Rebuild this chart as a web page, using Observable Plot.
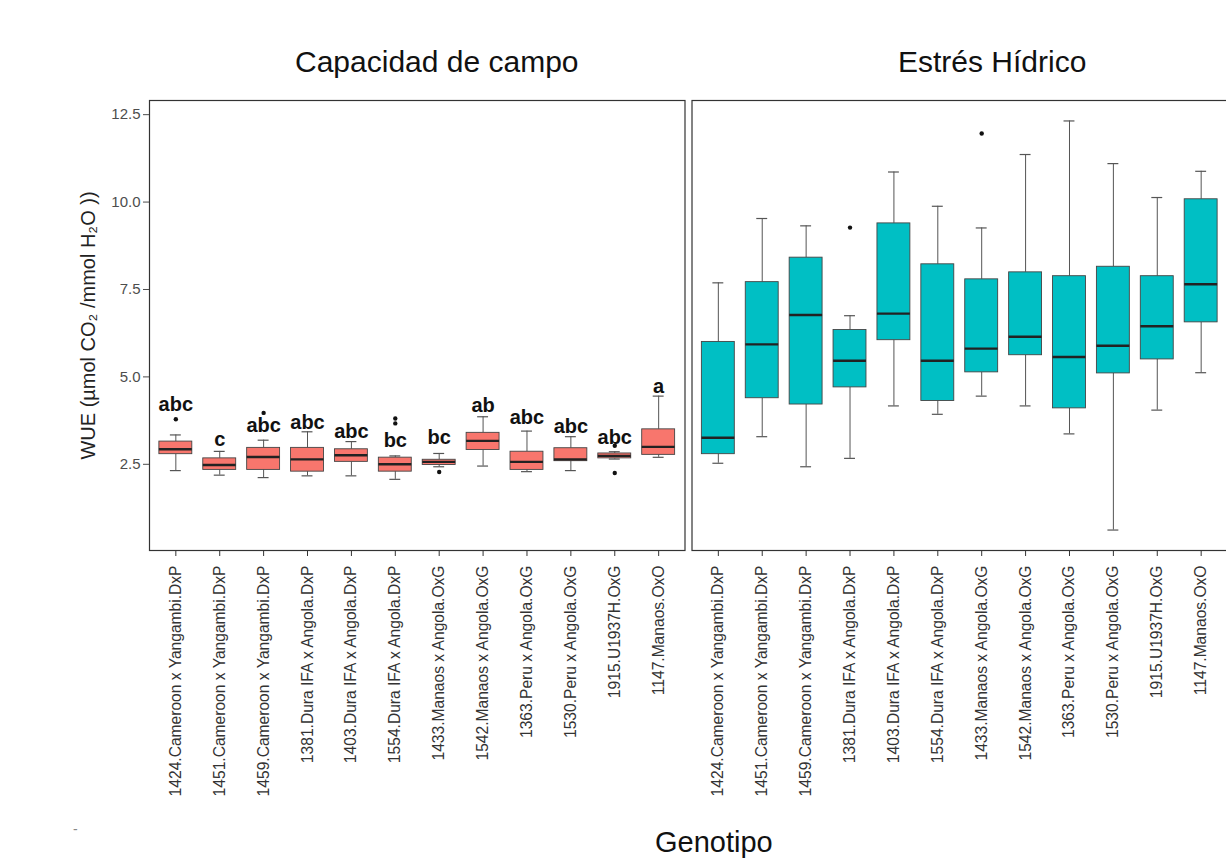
<!DOCTYPE html>
<html>
<head>
<meta charset="utf-8">
<script src="https://cdn.jsdelivr.net/npm/d3@7"></script>
<script src="https://cdn.jsdelivr.net/npm/@observablehq/plot@0.6"></script>
<style>
  html, body { margin: 0; padding: 0; background: #fff; overflow: hidden; }
  #wrap { position: relative; width: 1226px; height: 863px; overflow: hidden; font-family: "Liberation Sans", Arial, sans-serif; }
  #chart { position: absolute; left: 0; top: 0; width: 1240px; }
  #chart svg { max-width: none !important; }
  .ttl { position: absolute; font-size: 30px; line-height: 1; color: #111; white-space: nowrap; }
  #topline { position: absolute; left: 10px; top: 40px; width: 1216px; height: 2px; background: #ececec; }
</style>
</head>
<body>
<div id="wrap">
  <div id="topline"></div>
  <div id="chart"></div>
  <div class="ttl" style="left:295px; top:47px;">Capacidad de campo</div>
  <div class="ttl" style="left:898px; top:47px;">Estrés Hídrico</div>
  <div class="ttl" style="left:655px; top:828px; font-size:29px;">Genotipo</div>
  <div class="ttl" style="left:73px; top:822px; font-size:14px; color:#888;">-</div>
</div>
<script>
const genotipos = [
  "1424.Cameroon x Yangambi.DxP",
  "1451.Cameroon x Yangambi.DxP",
  "1459.Cameroon x Yangambi.DxP",
  "1381.Dura IFA x Angola.DxP",
  "1403.Dura IFA x Angola.DxP",
  "1554.Dura IFA x Angola.DxP",
  "1433.Manaos x Angola.OxG",
  "1542.Manaos x Angola.OxG",
  "1363.Peru x Angola.OxG",
  "1530.Peru x Angola.OxG",
  "1915.U1937H.OxG",
  "1147.Manaos.OxO"
];
const condiciones = ["Capacidad de campo", "Estrés Hídrico"];

// Capacidad de campo
const cc_min = [2.32, 2.19, 2.12, 2.17, 2.17, 2.07, 2.43, 2.45, 2.29, 2.32, 2.65, 2.70];
const cc_q1  = [2.79, 2.34, 2.34, 2.29, 2.57, 2.29, 2.48, 2.91, 2.34, 2.59, 2.67, 2.77];
const cc_med = [2.93, 2.48, 2.71, 2.64, 2.76, 2.50, 2.57, 3.17, 2.57, 2.64, 2.74, 3.00];
const cc_q3  = [3.15, 2.67, 2.97, 2.97, 2.93, 2.69, 2.63, 3.40, 2.86, 2.96, 2.81, 3.50];
const cc_max = [3.34, 2.87, 3.19, 3.43, 3.15, 2.74, 2.81, 3.86, 3.45, 3.29, 2.86, 4.45];
const cc_out_g = [0, 2, 5, 5, 6, 10, 10];
const cc_out_v = [3.79, 3.97, 3.81, 3.67, 2.28, 3.03, 2.25];
const cc_letras = ["abc", "c", "abc", "abc", "abc", "bc", "bc", "ab", "abc", "abc", "abc", "a"];
const cc_letras_y = [4.21, 3.21, 3.62, 3.69, 3.43, 3.17, 3.26, 4.19, 3.83, 3.57, 3.26, 4.72];

// Estrés Hídrico
const eh_min = [2.53, 3.29, 2.43, 2.67, 4.17, 3.93, 4.45, 4.17, 3.37, 0.62, 4.05, 5.12];
const eh_q1  = [2.79, 4.39, 4.21, 4.70, 6.05, 4.31, 5.13, 5.62, 4.10, 5.10, 5.50, 6.56];
const eh_med = [3.26, 5.93, 6.77, 5.46, 6.81, 5.46, 5.81, 6.15, 5.57, 5.89, 6.45, 7.65];
const eh_q3  = [6.00, 7.71, 8.41, 6.34, 9.39, 8.22, 7.79, 7.99, 7.88, 8.15, 7.88, 10.08];
const eh_max = [7.69, 9.53, 9.32, 6.75, 10.86, 9.88, 9.26, 11.36, 12.32, 11.10, 10.13, 10.88];
const eh_out_g = [3, 6];
const eh_out_v = [9.27, 11.96];

const yTicks = [2.5, 5.0, 7.5, 10.0, 12.5];
const yLabel = "WUE (µmol CO₂ /mmol H₂O ))";
const colores = ["#F8766D", "#00BFC4"];

function buildRows(cond, mn, q1, med, q3, mx) {
  return genotipos.map((g, i) => ({condicion: cond, genotipo: g, min: mn[i], q1: q1[i], med: med[i], q3: q3[i], max: mx[i]}));
}
const rows = [
  ...buildRows(condiciones[0], cc_min, cc_q1, cc_med, cc_q3, cc_max),
  ...buildRows(condiciones[1], eh_min, eh_q1, eh_med, eh_q3, eh_max)
];
const outliers = [
  ...cc_out_g.map((g, i) => ({condicion: condiciones[0], genotipo: genotipos[g], v: cc_out_v[i]})),
  ...eh_out_g.map((g, i) => ({condicion: condiciones[1], genotipo: genotipos[g], v: eh_out_v[i]}))
];
const letras = genotipos.map((g, i) => ({condicion: condiciones[0], genotipo: g, v: cc_letras_y[i], t: cc_letras[i]}));

const allVals = [...cc_min, ...cc_max, ...eh_min, ...eh_max, ...cc_out_v, ...eh_out_v];
const lo = d3.min(allVals), hi = d3.max(allVals), pad = (hi - lo) * 0.05;

const chart = Plot.plot({
  width: 1232,
  height: 863,
  marginTop: 100,
  marginBottom: 313,
  marginLeft: 149,
  marginRight: 5,
  style: {fontFamily: "'Liberation Sans', Arial, sans-serif", background: "white", color: "#333", maxWidth: "none"},
  fx: {domain: condiciones, paddingInner: 7 / 542, paddingOuter: 0, round: false, axis: null},
  x: {domain: genotipos, paddingInner: 0.25, paddingOuter: 0.225, round: false},
  y: {domain: [lo - pad, hi + pad]},
  color: {domain: condiciones, range: colores},
  marks: [
    Plot.axisY({ticks: yTicks, tickFormat: d3.format(".1f"), tickSize: 6, tickPadding: 3, fontSize: 15, color: "#4d4d4d", label: null}),
    Plot.axisX({tickRotate: -90, tickSize: 6, tickPadding: 9, fontSize: 15.6, color: "#333", label: null}),
    Plot.text([yLabel], {fx: () => condiciones[0], text: d => d, frameAnchor: "left", textAnchor: "middle", rotate: -90, dx: -61, fontSize: 20, fill: "#222"}),
    Plot.ruleX(rows, {fx: "condicion", x: "genotipo", y1: "q3", y2: "max", stroke: "#555", strokeWidth: 1}),
    Plot.ruleX(rows, {fx: "condicion", x: "genotipo", y1: "min", y2: "q1", stroke: "#555", strokeWidth: 1}),
    Plot.tickY(rows, {fx: "condicion", x: "genotipo", y: "max", insetLeft: 11, insetRight: 11, stroke: "#555", strokeWidth: 1.2}),
    Plot.tickY(rows, {fx: "condicion", x: "genotipo", y: "min", insetLeft: 11, insetRight: 11, stroke: "#555", strokeWidth: 1.2}),
    Plot.barY(rows, {fx: "condicion", x: "genotipo", y1: "q1", y2: "q3", fill: "condicion", stroke: "#444", strokeWidth: 0.9}),
    Plot.tickY(rows, {fx: "condicion", x: "genotipo", y: "med", stroke: "#222", strokeWidth: 2.4}),
    Plot.dot(outliers, {fx: "condicion", x: "genotipo", y: "v", r: 2.2, fill: "#111", stroke: null}),
    Plot.text(letras, {fx: "condicion", x: "genotipo", y: "v", text: "t", fontSize: 20, fontWeight: "bold", fill: "#111"}),
    Plot.frame({stroke: "#333", strokeWidth: 1.2})
  ]
});
document.getElementById("chart").appendChild(chart);
</script>
</body>
</html>
